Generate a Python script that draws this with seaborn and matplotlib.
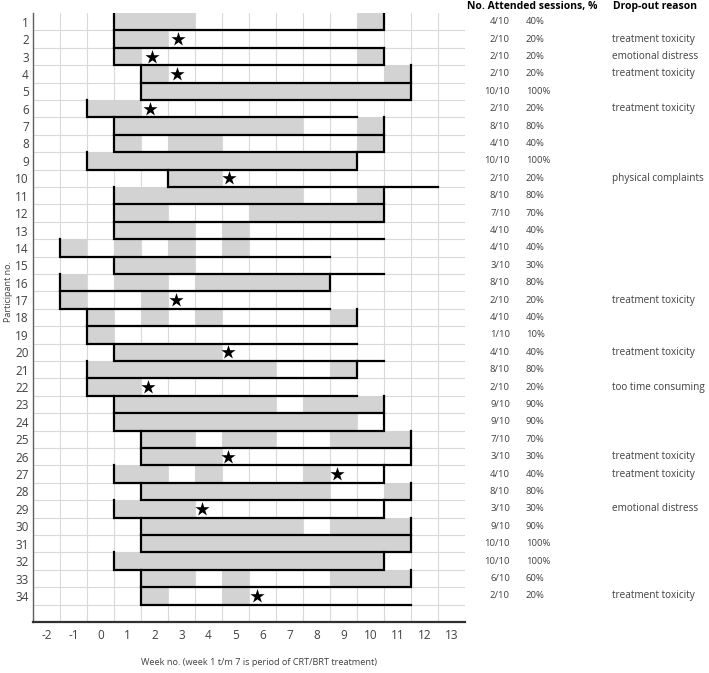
import matplotlib
matplotlib.use("Agg")
import matplotlib.pyplot as plt
import matplotlib.transforms as mtransforms
import numpy as np
import pandas as pd
import seaborn as sns

# ---------------- data ----------------
participants = list(range(1, 35))
week_labels = list(range(-2, 14))

first_week = [1, 1, 1, 2, 2, 0, 1, 1, 0, 3, 1, 1, 1, -1, 1, -1, -1,
              0, 0, 1, 0, 0, 1, 1, 2, 2, 1, 2, 1, 2, 2, 1, 2, 2]
last_week = [10, 10, 10, 11, 11, 9, 10, 10, 9, 12, 10, 10, 10, 8, 10, 8, 8,
             9, 9, 10, 9, 9, 10, 10, 11, 11, 10, 11, 10, 11, 11, 10, 11, 11]
closed_end = [True, False, True, True, True, False, True, True, True, False,
              True, True, False, False, False, True, False, True, False, False,
              True, False, True, True, True, True, True, True, True, True,
              True, True, True, False]
attended_weeks = [
    [1, 2, 3, 10],
    [1, 2],
    [1, 10],
    [2, 11],
    [2, 3, 4, 5, 6, 7, 8, 9, 10, 11],
    [0, 1],
    [1, 2, 3, 4, 5, 6, 7, 10],
    [1, 3, 4, 10],
    [0, 1, 2, 3, 4, 5, 6, 7, 8, 9],
    [3, 4],
    [1, 2, 3, 4, 5, 6, 7, 10],
    [1, 2, 6, 7, 8, 9, 10],
    [1, 2, 3, 5],
    [-1, 1, 3, 5],
    [1, 2, 3],
    [-1, 1, 2, 4, 5, 6, 7, 8],
    [-1, 2],
    [0, 2, 4, 9],
    [0],
    [1, 2, 3, 4],
    [0, 1, 2, 3, 4, 5, 6, 9],
    [0, 1],
    [1, 2, 3, 4, 5, 6, 8, 9, 10],
    [1, 2, 3, 4, 5, 6, 7, 8, 9],
    [2, 3, 5, 6, 9, 10, 11],
    [2, 3, 4],
    [1, 2, 4, 8],
    [2, 3, 4, 5, 6, 7, 8, 11],
    [1, 2, 3],
    [2, 3, 4, 5, 6, 7, 9, 10, 11],
    [2, 3, 4, 5, 6, 7, 8, 9, 10, 11],
    [1, 2, 3, 4, 5, 6, 7, 8, 9, 10],
    [2, 3, 5, 9, 10, 11],
    [2, 5],
]
dropout_participant = [2, 3, 4, 6, 10, 17, 20, 22, 26, 27, 29, 34]
dropout_week = [3.38, 2.39, 3.32, 2.33, 5.27, 3.30, 5.23, 2.27, 5.23, 9.25, 4.25, 6.28]

sessions_attended = [4, 2, 2, 2, 10, 2, 8, 4, 10, 2, 8, 7, 4, 4, 3, 8, 2,
                     4, 1, 4, 8, 2, 9, 9, 7, 3, 4, 8, 3, 9, 10, 10, 6, 2]
sessions_total = 10
dropout_reason = ["", "treatment toxicity", "emotional distress", "treatment toxicity", "",
                  "treatment toxicity", "", "", "", "physical complaints",
                  "", "", "", "", "", "", "treatment toxicity", "", "",
                  "treatment toxicity", "", "too time consuming", "", "", "",
                  "treatment toxicity", "treatment toxicity", "", "emotional distress",
                  "", "", "", "", "treatment toxicity"]

header_sessions = "No. Attended sessions, %"
header_reason = "Drop-out reason"
x_title = "Week no. (week 1 t/m 7 is period of CRT/BRT treatment)"
y_title = "Participant no."

# ---------------- style ----------------
sns.set_theme(style="white")
FONT = ["Open Sans", "DejaVu Sans"]
plt.rcParams["font.family"] = FONT
GREY = "#d3d3d3"
GRID = "#d9d9d9"
TXT = "#404040"

W, H = 709, 673
fig = plt.figure(figsize=(W / 100, H / 100), dpi=100)
ax = fig.add_axes([33 / W, 1 - 622 / H, (465 - 33) / W, (622 - 13) / H])

n_rows = len(participants) + 1
ax.set_xlim(-2, 14)
ax.set_ylim(n_rows, 0)

# grid
for gx in range(-1, 14):
    ax.axvline(gx, color=GRID, lw=0.8, zorder=0)
for gy in range(1, n_rows):
    ax.axhline(gy, color=GRID, lw=0.8, zorder=0)

# grey attended cells
for i, weeks in enumerate(attended_weeks):
    ax.broken_barh([(w, 1) for w in weeks], (i, 1), facecolors=GREY,
                   edgecolors="none", zorder=1)

# treatment window outlines
for i in range(len(participants)):
    x0 = first_week[i]
    x1 = last_week[i] + 1
    xs = [x0, x0, x1]
    ys = [i, i + 1, i + 1]
    if closed_end[i]:
        xs.append(x1)
        ys.append(i)
    ax.plot(xs, ys, color="black", lw=1.6, solid_joinstyle="miter",
            solid_capstyle="projecting", zorder=3)

# drop-out stars
drop_df = pd.DataFrame({"week": dropout_week,
                        "row": [p - 0.5 for p in dropout_participant]})
sns.scatterplot(data=drop_df, x="week", y="row", marker="*", s=115,
                color="black", edgecolor="black", linewidth=0, ax=ax, zorder=4,
                legend=False)

# axes formatting
ax.set_xticks([w + 0.5 for w in week_labels])
ax.set_xticklabels([str(w) for w in week_labels])
ax.set_xticks(range(-2, 15), minor=True)
ax.set_yticks([p - 0.5 for p in participants])
ax.set_yticklabels([str(p) for p in participants])
ax.tick_params(axis="x", which="major", length=0, pad=5, labelsize=8.5, labelcolor=TXT)
ax.tick_params(axis="x", which="minor", length=3, width=0.8, color="#404040", direction="out")
ax.tick_params(axis="y", length=0, pad=3, labelsize=8.5, labelcolor=TXT)
for side in ["top", "right"]:
    ax.spines[side].set_visible(False)
ax.spines["left"].set_color("#606060")
ax.spines["left"].set_linewidth(1.0)
ax.spines["bottom"].set_color("#303030")
ax.spines["bottom"].set_linewidth(1.6)

ax.set_xlabel(x_title, fontsize=6.6, color=TXT)
ax.xaxis.set_label_coords((259 - 33) / 432, (622 - 658) / 609)
ax.set_ylabel(y_title, fontsize=6.5, color=TXT)
ax.yaxis.set_label_coords((13 - 33) / 432, 1 - (292 - 13) / 609)

# right-hand text columns
tr = mtransforms.blended_transform_factory(fig.transFigure, ax.transData)
for i, p in enumerate(participants):
    yc = p - 0.5
    fig.text(510 / W, yc, f"{sessions_attended[i]}/{sessions_total}", transform=tr,
             ha="right", va="center", fontsize=6.8, color=TXT)
    fig.text(526 / W, yc, f"{round(100 * sessions_attended[i] / sessions_total)}%",
             transform=tr, ha="left", va="center", fontsize=6.8, color=TXT)
    if dropout_reason[i]:
        fig.text(612 / W, yc, dropout_reason[i], transform=tr, ha="left",
                 va="center", fontsize=7.2, color=TXT)

fig.text(467 / W, 1 - 7 / H, header_sessions, ha="left", va="center",
         fontsize=7.5, fontweight="bold", color="black")
fig.text(613 / W, 1 - 7 / H, header_reason, ha="left", va="center",
         fontsize=7.5, fontweight="bold", color="black")

fig.savefig("out.png", dpi=100)
